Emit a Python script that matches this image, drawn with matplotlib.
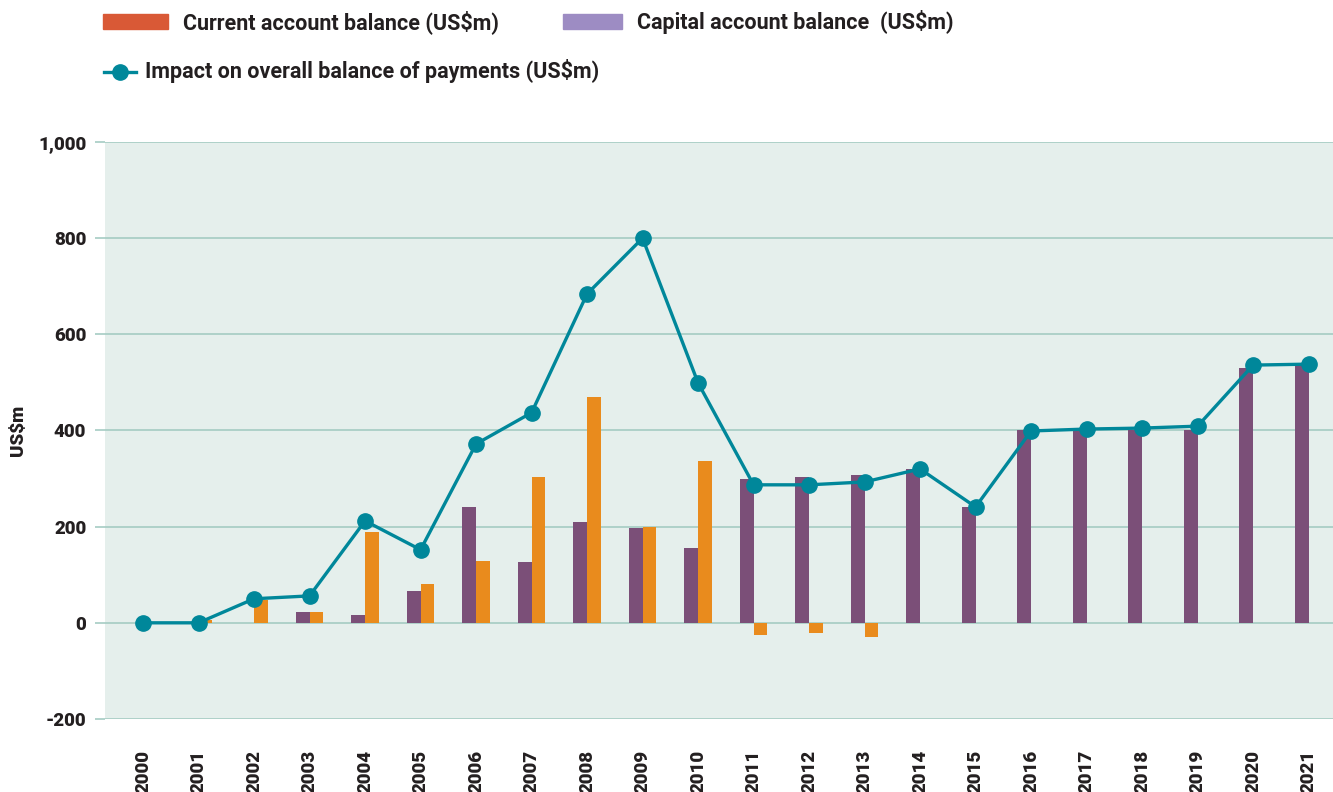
import numpy as np
import matplotlib
matplotlib.use("Agg")
import matplotlib.pyplot as plt
from matplotlib.patches import Rectangle
from matplotlib.lines import Line2D

plt.rcParams['font.family'] = ['Roboto', 'DejaVu Sans']
plt.rcParams['font.weight'] = 'heavy'
plt.rcParams['axes.labelweight'] = 'heavy'

years = list(range(2000, 2022))
capital = [0, 0, 0, 23, 17, 67, 241, 127, 210, 198, 156, 299, 303, 308, 320, 241,
           401, 401, 401, 401, 530, 536]
current = [0, 6, 48, 23, 189, 81, 129, 304, 470, 200, 337, -25, -21, -29, 0, 0,
           0, 0, 0, 0, 0, 0]
impact = [0, 0, 50, 56, 212, 152, 372, 437, 684, 800, 499, 287, 287, 293, 320, 241,
          399, 403, 405, 409, 536, 538]

purple = '#7B4F78'
orange = '#E98B1D'
teal = '#00879A'
grid_c = '#A5CCC3'
bg = '#E5EFEC'
txt = '#231F20'

fig = plt.figure(figsize=(13.33, 7.92), dpi=100)
ax = fig.add_axes([0.0788, 0.0922, 0.9212, 0.7285])
ax.set_facecolor(bg)

x = np.arange(len(years))
w = 0.25
ax.bar(x - w / 2, capital, width=w, color=purple, zorder=2)
ax.bar(x + w / 2, current, width=w, color=orange, zorder=2)
ax.plot(x, impact, color=teal, lw=2.4, marker='o', ms=11, zorder=3)

ax.set_ylim(-200, 1000)
ax.set_xlim(-0.685, 21.44)
ax.set_yticks(range(-200, 1001, 200))
ax.set_yticklabels(['-200', '0', '200', '400', '600', '800', '1,000'])
ax.set_xticks(x)
ax.set_xticklabels([str(y) for y in years], rotation=90)
ax.yaxis.grid(True, color=grid_c, lw=1.2, zorder=1)
ax.set_axisbelow(True)
for s in ax.spines.values():
    s.set_visible(False)
ax.tick_params(axis='y', length=7.5, color=grid_c, width=1.2, labelsize=13.5,
               labelcolor=txt, pad=6)
ax.tick_params(axis='x', length=0, labelsize=13.5, labelcolor=txt, pad=22)
ax.set_ylabel('US$m', fontsize=13.5, color=txt, labelpad=8)

# legend
def fx(px):
    return px / 1333

def fy(py):
    return 1 - py / 792

leg_font = ['Liberation Sans Narrow', 'Roboto']
fig.patches.append(Rectangle((fx(103), fy(29)), fx(65), 15 / 792, color='#D95936',
                             transform=fig.transFigure))
fig.text(fx(183), fy(22), 'Current account balance (US$m)', fontsize=15.5,
         color=txt, va='center', family=leg_font, weight='bold')
fig.patches.append(Rectangle((fx(563), fy(29)), fx(59), 15 / 792, color='#9D8CC3',
                             transform=fig.transFigure))
fig.text(fx(637), fy(22), 'Capital account balance  (US$m)', fontsize=15.5,
         color=txt, va='center', family=leg_font, weight='bold')
fig.lines.append(Line2D([fx(104), fx(136)], [fy(72), fy(72)], color=teal, lw=2.4,
                        transform=fig.transFigure))
fig.lines.append(Line2D([fx(120)], [fy(72)], color=teal, marker='o', ms=11,
                        transform=fig.transFigure))
fig.text(fx(145), fy(71), 'Impact on overall balance of payments (US$m)', fontsize=15.5,
         color=txt, va='center', family=leg_font, weight='bold')

fig.savefig('out.png', dpi=100)
